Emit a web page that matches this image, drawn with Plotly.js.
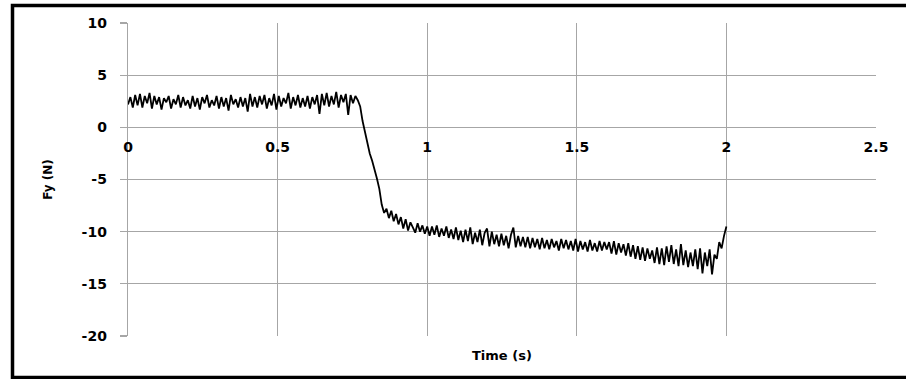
<!DOCTYPE html>
<html>
<head>
<meta charset="utf-8">
<script src="https://cdn.plot.ly/plotly-3.0.1.min.js"></script>
<style>
html,body{margin:0;padding:0;background:#fff;}
#chart{width:906px;height:379px;}
</style>
</head>
<body>
<div id="chart"></div>
<script>
// sampling interval (s)
const dt = 0.008;
// Fy (N) readings, one per sample
const fyPlateau = [
2.2, 2.9, 1.9, 3.1, 2.1, 3.2, 1.9, 3.0, 2.3, 3.3,
1.8, 3.0, 2.2, 2.9, 1.7, 2.8, 2.4, 3.0, 1.8, 2.7,
2.2, 3.1, 1.9, 2.9, 2.1, 2.6, 1.8, 3.0, 2.0, 2.8,
1.7, 2.9, 2.3, 3.1, 1.9, 2.6, 2.1, 3.0, 1.8, 2.9,
2.0, 2.8, 1.6, 3.1, 2.2, 2.7, 1.9, 2.9, 2.0, 2.8,
1.5, 3.2, 2.0, 2.9, 1.9, 3.0, 2.2, 3.1, 1.8, 2.8,
2.1, 3.2, 1.7, 3.0, 2.0, 2.8, 2.3, 3.3, 1.8, 2.9,
2.1, 3.1, 1.9, 2.8, 2.0, 3.0, 1.8, 2.9, 2.2, 3.1,
1.3, 3.2, 2.1, 3.3, 2.0, 3.0, 2.2, 3.4, 1.9, 3.1,
2.4, 3.2, 1.2, 3.1, 2.3, 3.0, 2.6
];
const fyDrop = [
2.0, 0.6, -0.5, -1.5, -2.5, -3.2, -4.0, -4.9, -5.9, -7.4
];
const fySettle = [
-8.2, -7.8, -8.7, -8.0, -9.0, -8.3, -9.3, -8.6, -9.7, -8.8,
-9.9, -9.1, -9.6, -10.1, -9.2, -10.0, -9.4, -10.2, -9.5
];
const fyMid = [
-10.4, -9.5, -10.3, -9.4, -10.5, -9.7, -10.4, -9.5, -10.6, -9.8,
-10.7, -9.6, -10.8, -9.9, -11.0, -9.8, -10.9, -9.6, -11.2, -10.1,
-11.0, -9.8, -11.3, -10.1, -9.7, -11.4, -10.0, -11.2, -10.3, -11.4,
-10.2, -11.3, -10.4, -11.6, -10.3, -9.6, -11.5, -10.4, -11.4, -10.5,
-11.5, -10.5, -11.6, -10.6, -11.5, -10.7, -11.7, -10.6, -11.6, -10.8,
-11.7, -10.7, -11.5, -10.9, -11.8, -10.7, -11.6, -10.8, -11.7, -10.9,
-11.8, -10.7, -11.9, -10.9, -11.7, -11.0, -11.9, -10.8, -11.8, -11.1,
-11.9, -10.9, -11.8, -11.0, -11.7
];
const fyLate = [
-11.0, -12.1, -10.9, -12.2, -11.1, -12.0, -11.2, -12.3, -11.1, -12.4,
-11.3, -12.6, -11.4, -12.7, -11.5, -12.8, -11.6, -12.6, -11.8, -13.0,
-11.5, -13.1, -11.6, -13.2, -11.4, -12.9, -11.3, -13.1, -11.7, -13.3,
-11.2, -13.2, -11.8, -13.4, -12.0, -13.3, -11.7, -13.6, -11.6, -14.0,
-12.0
];
const fyEnd = [
-13.3, -11.7, -14.1, -12.2, -12.6, -11.0, -11.6, -10.4, -9.5
];
const fy = [].concat(fyPlateau, fyDrop, fySettle, fyMid, fyLate, fyEnd);
const time = fy.map((_, i) => +(i * dt).toFixed(3));

const xTicks = [0, 0.5, 1, 1.5, 2, 2.5];
const xTickText = ['0', '0.5', '1', '1.5', '2', '2.5'];
const yTicks = [-20, -15, -10, -5, 0, 5, 10];
const yTickText = ['-20', '-15', '-10', '-5', '0', '5', '10'];
const xTitle = 'Time (s)';
const yTitle = 'Fy (N)';

const gridCol = '#a6a6a6';
const fam = 'DejaVu Sans, Verdana, sans-serif';
const tickFont = {family: fam, size: 14, color: '#000', weight: 'bold'};

const trace = {
  x: time, y: fy, type: 'scatter', mode: 'lines',
  line: {color: '#000', width: 1.8}, hoverinfo: 'skip'
};

const layout = {
  width: 906, height: 379,
  margin: {l: 128, r: 30, t: 23, b: 43, pad: 0},
  paper_bgcolor: '#fff', plot_bgcolor: '#fff',
  showlegend: false,
  xaxis: {
    range: [0, 2.5], tickvals: xTicks, ticktext: xTickText,
    anchor: 'free', position: 2/3,
    showgrid: true, gridcolor: gridCol, gridwidth: 1.3,
    zeroline: false, showline: false, ticks: '',
    ticklabelstandoff: 10,
    tickfont: tickFont
  },
  yaxis: {
    range: [-20, 10], tickvals: yTicks, ticktext: yTickText,
    showgrid: true, gridcolor: gridCol, gridwidth: 1.3,
    zeroline: true, zerolinecolor: gridCol, zerolinewidth: 1.3,
    showline: true, linecolor: gridCol, linewidth: 1.3,
    ticks: 'outside', ticklen: 7, tickcolor: gridCol, tickwidth: 1.3,
    ticklabelstandoff: 10,
    tickfont: tickFont,
    title: {text: yTitle, standoff: 26, font: {family: fam, size: 12, color: '#000', weight: 'bold'}}
  },
  annotations: [{
    text: xTitle, xref: 'paper', yref: 'paper', x: 0.5, y: (336 - 355) / 313,
    xanchor: 'center', yanchor: 'middle', showarrow: false,
    font: {family: fam, size: 13, color: '#000', weight: 'bold'}
  }],
  shapes: [{
    type: 'rect', xref: 'paper', yref: 'paper',
    x0: (12.5 - 128) / 748, x1: (915 - 128) / 748,
    y0: (336 - 377.5) / 313, y1: (336 - 5.5) / 313,
    line: {color: '#000', width: 3.5}, fillcolor: 'rgba(0,0,0,0)', layer: 'above'
  }]
};

Plotly.newPlot('chart', [trace], layout, {staticPlot: true, displayModeBar: false});
</script>
</body>
</html>
